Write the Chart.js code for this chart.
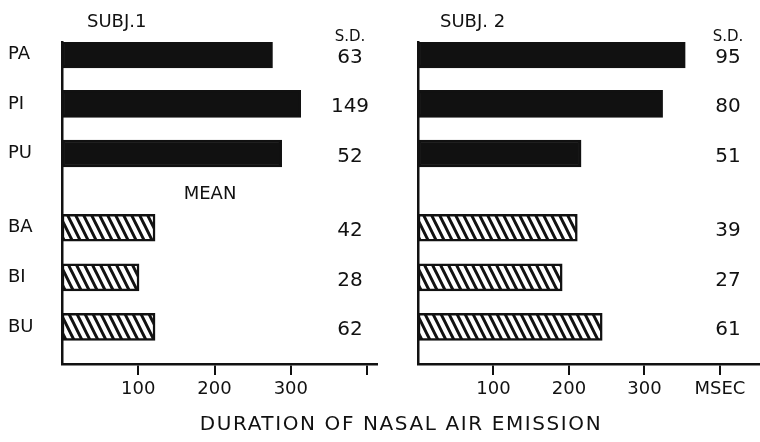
<!DOCTYPE html>
<html>
<head>
<meta charset="utf-8">
<script src="https://cdn.jsdelivr.net/npm/chart.js@4"></script>
<style>
  body { margin: 0; background: #fff; }
  #wrap { position: relative; width: 760px; height: 442px; }
  #left { position: absolute; left: 0; top: 0; }
  #right { position: absolute; left: 380px; top: 0; }
  #xtitle {
    position: absolute; left: 0; width: 802px; top: 411px; text-align: center;
    font-family: 'DejaVu Sans', sans-serif; font-size: 20px; letter-spacing: 1.6px; color: #111;
  }
</style>
</head>
<body>
<div id="wrap">
  <canvas id="left" width="380" height="442"></canvas>
  <canvas id="right" width="380" height="442"></canvas>
  <div id="xtitle">DURATION OF NASAL AIR EMISSION</div>
</div>
<script>
const categories = ['PA', 'PI', 'PU', 'BA', 'BI', 'BU'];
const subj1Mean = [276, 313, 288, 122, 101, 122];
const subj2Mean = [354, 324, 216, 211, 191, 244];
const subj1SD = [63, 149, 52, 42, 28, 62];
const subj2SD = [95, 80, 51, 39, 27, 61];
const tickValues = [100, 200, 300, 400];
const tickLabels1 = ['100', '200', '300', ''];
const tickLabels2 = ['100', '200', '300', 'MSEC'];

// half-step rows, with an extra gap before the B group
const slots = [];
categories.forEach(function(c, i) {
    if (i === 3) slots.push('');
    slots.push(c);
    slots.push('');
});

Chart.defaults.font.family = "'DejaVu Sans', sans-serif";
Chart.defaults.color = '#111';

// steep hatch pattern for the B bars
function hatch() {
    const c = document.createElement('canvas');
    c.width = 8; c.height = 16;
    const g = c.getContext('2d');
    g.fillStyle = '#fff';
    g.fillRect(0, 0, 8, 16);
    g.strokeStyle = '#111';
    g.lineWidth = 3;
    g.beginPath();
    [-8, 0, 8].forEach(function(o) {
        g.moveTo(o - 1, -2); g.lineTo(o + 9, 18);
    });
    g.stroke();
    return g.createPattern(c, 'repeat');
}
const pattern = hatch();

function makeChart(id, values, sds, tickLabels, cfg) {
    const data = slots.map(s => s ? values[categories.indexOf(s)] : null);
    const fills = slots.map(s => s.startsWith('P') ? '#111' : pattern);

    const textPlugin = {
        id: 'texts',
        afterDraw(chart) {
            const ctx = chart.ctx;
            const y = chart.scales.y;
            ctx.save();
            ctx.fillStyle = '#111';
            ctx.textAlign = 'center';
            ctx.textBaseline = 'middle';
            ctx.font = "20px 'DejaVu Sans', sans-serif";
            sds.forEach(function(v, i) {
                const py = y.getPixelForValue(slots.indexOf(categories[i]));
                ctx.fillText(String(v), cfg.sdX, py + 3);
            });
            ctx.font = "15px 'DejaVu Sans', sans-serif";
            ctx.fillText('S.D.', cfg.sdX, 37);
            ctx.font = "18px 'DejaVu Sans', sans-serif";
            ctx.textAlign = 'left';
            ctx.fillText(cfg.title, cfg.titleX, 22);
            if (cfg.mean) {
                ctx.textAlign = 'center';
                ctx.fillText('MEAN', 210, 194);
            }
            ctx.restore();
        }
    };

    return new Chart(document.getElementById(id), {
        type: 'bar',
        data: {
            labels: slots,
            datasets: [{
                data: data,
                backgroundColor: fills,
                borderColor: '#111',
                borderWidth: 2.5,
                borderSkipped: false,
                barThickness: 27
            }]
        },
        options: {
            indexAxis: 'y',
            responsive: false,
            animation: false,
            layout: { padding: cfg.padding },
            plugins: { legend: { display: false }, tooltip: { enabled: false } },
            scales: {
                x: {
                    min: 0,
                    max: cfg.max,
                    afterBuildTicks: s => { s.ticks = tickValues.map(v => ({ value: v })); },
                    afterFit: s => { s.height = 30; },
                    grid: { drawOnChartArea: false, drawTicks: true, tickLength: 11, color: '#111', lineWidth: 2 },
                    border: { display: true, color: '#111', width: 2.5 },
                    ticks: {
                        padding: 4,
                        font: { size: 18 },
                        color: '#111',
                        maxRotation: 0,
                        callback: (v, i) => tickLabels[i]
                    }
                },
                y: {
                    afterFit: s => { s.width = cfg.yWidth; },
                    grid: { display: false },
                    border: { display: true, color: '#111', width: 2.5 },
                    ticks: {
                        display: cfg.showLabels,
                        autoSkip: false,
                        crossAlign: 'far',
                        font: { size: 18 },
                        color: '#111'
                    }
                }
            }
        },
        plugins: [textPlugin]
    });
}

makeChart('left', subj1Mean, subj1SD, tickLabels1, {
    padding: { left: 8, top: 42, right: 3, bottom: 48 },
    yWidth: 54, max: 413, showLabels: true,
    sdX: 350, title: 'SUBJ.1', titleX: 87, mean: true
});
makeChart('right', subj2Mean, subj2SD, tickLabels2, {
    padding: { left: 0, top: 42, right: 0, bottom: 48 },
    yWidth: 38, max: 453, showLabels: false,
    sdX: 348, title: 'SUBJ. 2', titleX: 60, mean: false
});
</script>
</body>
</html>
